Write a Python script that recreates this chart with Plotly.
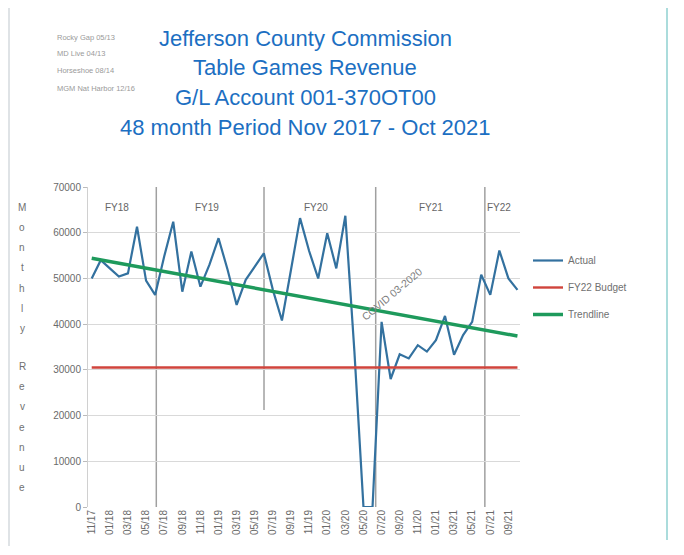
import plotly.graph_objects as go

# ---------------- data ----------------
months = ["11/17", "12/17",
          "01/18", "02/18", "03/18", "04/18", "05/18", "06/18", "07/18", "08/18", "09/18", "10/18", "11/18", "12/18",
          "01/19", "02/19", "03/19", "04/19", "05/19", "06/19", "07/19", "08/19", "09/19", "10/19", "11/19", "12/19",
          "01/20", "02/20", "03/20", "04/20", "05/20", "06/20", "07/20", "08/20", "09/20", "10/20", "11/20", "12/20",
          "01/21", "02/21", "03/21", "04/21", "05/21", "06/21", "07/21", "08/21", "09/21", "10/21"]
actual = [50000, 54000, 52200, 50400, 51100, 61300, 49500, 46400, 54800, 62400, 47100, 55900,
          48200, 53000, 58800, 51900, 44200, 49700, 52600, 55500, 47500, 40800, 51900, 63200,
          56000, 50000, 59900, 52200, 63700, 34000, 0, 0, 40500, 28000, 33400, 32500,
          35400, 34000, 36500, 41800, 33300, 37600, 40500, 50800, 46400, 56100, 50000, 47500]
budget_value = 30500
trend_start, trend_end = 54400, 37400
fiscal_years = ["FY18", "FY19", "FY20", "FY21", "FY22"]
y_ticks = [0, 10000, 20000, 30000, 40000, 50000, 60000, 70000]
title_lines = ["Jefferson County Commission", "Table Games Revenue",
               "G/L Account 001-370OT00", "48 month Period Nov 2017 - Oct 2021"]
notes = ["Rocky Gap 05/13", "MD Live 04/13", "Horseshoe 08/14", "MGM Nat Harbor 12/16"]
y_title = "Monthly Revenue"

# ---------------- layout constants ----------------
# the page body has an 8px margin, so the figure is drawn 8px in from the window edge
OFF = 8
W, H = 668, 539
PLOT_L, PLOT_R, PLOT_T, PLOT_B = 88, 520, 187, 507       # window pixel coords of the plot area
L, T = PLOT_L - OFF, PLOT_T - OFF
R, B = W - (PLOT_R - OFF), H - (PLOT_B - OFF)
PW, PH = PLOT_R - PLOT_L, PLOT_B - PLOT_T


def px_x(px):
    return (px - PLOT_L) / PW


def px_y(py):
    return (PLOT_B - py) / PH


x_idx = list(range(len(months)))
fig = go.Figure()
fig.add_trace(go.Scatter(x=x_idx, y=actual, mode="lines", name="Actual",
                         line=dict(color="#33719f", width=2.2), legendgroup="a"))
fig.add_trace(go.Scatter(x=[x_idx[0], x_idx[-1]], y=[budget_value, budget_value], mode="lines",
                         name="FY22 Budget", line=dict(color="#d0443c", width=2.4), legendgroup="b"))
fig.add_trace(go.Scatter(x=[x_idx[0], x_idx[-1]], y=[trend_start, trend_end], mode="lines",
                         name="Trendline", line=dict(color="#1e9a5c", width=3.5), legendgroup="c"))

shapes = []
# fiscal-year dividers
fy_lines = [(7.13, 0), (19.02, 21200), (31.35, 0), (43.4, 0)]
for xv, ybot in fy_lines:
    shapes.append(dict(type="line", xref="x", yref="y", x0=xv, x1=xv, y0=ybot, y1=70000,
                       line=dict(color="#a0a0a0", width=1.5), layer="below"))
# outer frame
shapes.append(dict(type="line", xref="paper", yref="paper", x0=px_x(9), x1=px_x(9),
                   y0=px_y(8), y1=px_y(546), line=dict(color="#d4dade", width=1.5)))
shapes.append(dict(type="line", xref="paper", yref="paper", x0=px_x(667), x1=px_x(667),
                   y0=px_y(8), y1=px_y(540), line=dict(color="#8fd0d0", width=1.5)))

annotations = []
for i, t in enumerate(title_lines):
    annotations.append(dict(text=t, xref="paper", yref="paper", x=px_x(305), y=px_y([38, 67, 97, 127][i]),
                            xanchor="center", yanchor="middle", showarrow=False,
                            font=dict(family="Liberation Sans, Arial", size=22, color="#1c6fc2")))
for i, t in enumerate(notes):
    annotations.append(dict(text=t, xref="paper", yref="paper", x=px_x(55), y=px_y([37, 53, 71, 88][i]),
                            xanchor="left", yanchor="middle", showarrow=False,
                            font=dict(family="Liberation Sans", size=7.5, color="#9a9a9a")))
fy_pos = [2.76, 12.7, 24.8, 37.5, 44.95]
for name, xv in zip(fiscal_years, fy_pos):
    annotations.append(dict(text=name, xref="x", yref="y", x=xv, y=65600, showarrow=False,
                            font=dict(family="Liberation Sans", size=10, color="#666666")))
annotations.append(dict(text="COVID 03-2020", xref="x", yref="y", x=33.1, y=46700, showarrow=False,
                        textangle=-40, font=dict(family="Liberation Sans", size=10.5, color="#808080")))
# stacked y-axis title
ypos = 207
for ch in y_title:
    if ch == " ":
        ypos += 17
        continue
    annotations.append(dict(text=ch, xref="paper", yref="paper", x=px_x(22), y=px_y(ypos),
                            xanchor="center", yanchor="middle", showarrow=False,
                            font=dict(family="Liberation Sans", size=10, color="#707070")))
    ypos += 20.3

fig.update_layout(
    width=W, height=H, margin=dict(l=L, r=R, t=T, b=B, pad=0),
    paper_bgcolor="white", plot_bgcolor="white",
    showlegend=True,
    legend=dict(x=px_x(528), y=px_y(246), xanchor="left", yanchor="top", traceorder="grouped",
                tracegroupgap=8, font=dict(family="Liberation Sans", size=10, color="#707070"),
                bgcolor="rgba(0,0,0,0)"),
    shapes=shapes, annotations=annotations,
    xaxis=dict(range=[-0.41, 47.28], tickmode="array", tickvals=x_idx[::2], ticktext=months[::2],
               tickangle=-90, showgrid=False, zeroline=False, showline=False,
               tickfont=dict(family="Liberation Sans", size=10, color="#6a6a6a"), ticks=""),
    yaxis=dict(range=[0, 70000], tickvals=y_ticks, ticktext=[str(v) for v in y_ticks],
               showgrid=True, gridcolor="#d9d9d9", gridwidth=1.2, zeroline=False,
               showline=True, linecolor="#d0d0d0", ticks="outside", ticklen=4, tickcolor="#bbbbbb",
               tickfont=dict(family="Liberation Sans", size=10, color="#6a6a6a")),
)
fig.write_html("out.html")
